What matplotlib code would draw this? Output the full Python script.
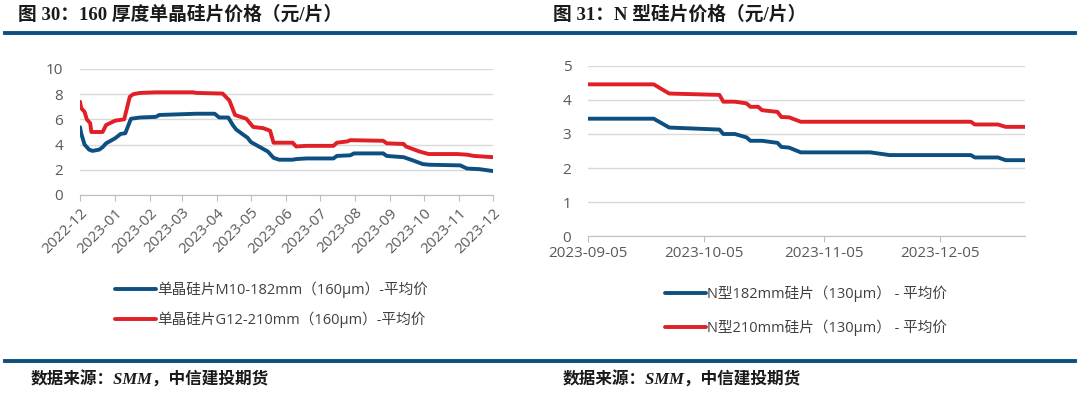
import matplotlib.pyplot as plt
import matplotlib.dates as mdates
from matplotlib.lines import Line2D
import pandas as pd

plt.rcParams['font.family'] = ['Noto Sans CJK SC', 'DejaVu Sans']

# 图30: 160厚度单晶硅片 (元/片)
m10_dates = ['2022-12-01', '2022-12-02', '2022-12-05', '2022-12-09', '2022-12-12', '2022-12-18',
             '2022-12-21', '2022-12-24', '2023-01-01', '2023-01-06', '2023-01-10', '2023-01-15',
             '2023-01-23', '2023-02-06', '2023-02-09', '2023-03-14', '2023-03-30', '2023-04-03',
             '2023-04-11', '2023-04-15', '2023-04-18', '2023-04-24', '2023-04-28', '2023-05-01',
             '2023-05-07', '2023-05-12', '2023-05-16', '2023-05-21', '2023-05-26', '2023-06-07',
             '2023-06-10', '2023-06-19', '2023-07-13', '2023-07-16', '2023-07-28', '2023-07-31',
             '2023-08-26', '2023-08-29', '2023-09-13', '2023-09-21', '2023-09-30', '2023-10-06',
             '2023-11-02', '2023-11-08', '2023-11-19', '2023-12-01']
m10_price = [5.38, 4.9, 4.0, 3.6, 3.5, 3.6, 3.8, 4.1, 4.5, 4.85, 4.9, 6.05,
             6.15, 6.2, 6.35, 6.45, 6.45, 6.15, 6.15, 5.55, 5.2, 4.8, 4.55, 4.2,
             3.9, 3.65, 3.45, 2.95, 2.8, 2.8, 2.85, 2.9, 2.9, 3.1, 3.15, 3.3,
             3.3, 3.1, 3.0, 2.75, 2.45, 2.4, 2.35, 2.1, 2.05, 1.9]

g12_dates = ['2022-12-01', '2022-12-02', '2022-12-05', '2022-12-07', '2022-12-10', '2022-12-11',
             '2022-12-21', '2022-12-24', '2023-01-01', '2023-01-09', '2023-01-14', '2023-01-17',
             '2023-01-23', '2023-02-06', '2023-03-11', '2023-03-14', '2023-04-06', '2023-04-12',
             '2023-04-17', '2023-04-27', '2023-05-03', '2023-05-12', '2023-05-18', '2023-05-21',
             '2023-06-07', '2023-06-10', '2023-06-19', '2023-07-13', '2023-07-16', '2023-07-25',
             '2023-07-28', '2023-08-26', '2023-08-29', '2023-09-13', '2023-09-15', '2023-09-27',
             '2023-10-05', '2023-10-30', '2023-11-08', '2023-11-14', '2023-12-01']
g12_price = [7.4, 6.9, 6.6, 6.0, 5.7, 5.0, 5.0, 5.55, 5.9, 6.0, 7.8, 8.0,
             8.1, 8.15, 8.15, 8.1, 8.05, 7.5, 6.35, 6.05, 5.4, 5.3, 5.1, 4.15,
             4.15, 3.85, 3.9, 3.9, 4.15, 4.25, 4.35, 4.3, 4.1, 4.05, 3.85, 3.45,
             3.25, 3.25, 3.2, 3.1, 3.0]

# 图31: N型硅片 (元/片)
n_dates = ['2023-09-05', '2023-09-22', '2023-09-26', '2023-10-09', '2023-10-10', '2023-10-13',
           '2023-10-16', '2023-10-17', '2023-10-19', '2023-10-20', '2023-10-24', '2023-10-25',
           '2023-10-27', '2023-10-30', '2023-11-17', '2023-11-22', '2023-12-13', '2023-12-14',
           '2023-12-20', '2023-12-22', '2023-12-27']
n182_price = [3.45, 3.45, 3.19, 3.13, 3.0, 3.0, 2.9, 2.8, 2.8, 2.8, 2.74, 2.62,
              2.6, 2.46, 2.46, 2.38, 2.38, 2.31, 2.31, 2.23, 2.23]
n210_price = [4.46, 4.46, 4.19, 4.15, 3.95, 3.95, 3.9, 3.8, 3.8, 3.7, 3.65, 3.5,
              3.49, 3.36, 3.36, 3.36, 3.36, 3.28, 3.28, 3.21, 3.21]

left_labels = ['单晶硅片M10-182mm（160μm）-平均价', '单晶硅片G12-210mm（160μm）-平均价']
right_labels = ['N型182mm硅片（130μm） - 平均价', 'N型210mm硅片（130μm） - 平均价']
right_ticks = ['2023-09-05', '2023-10-05', '2023-11-05', '2023-12-05']

BLUE = '#0d4f80'
RED = '#e01f26'
RULE = '#0b4f7e'
GRID = '#d9d9d9'
TXT = '#595959'
LATIN = ['Open Sans', 'Noto Sans CJK SC']

fig = plt.figure(figsize=(10.8, 3.94), dpi=100)

def style(ax):
    for s in ['top', 'right', 'left']:
        ax.spines[s].set_visible(False)
    ax.spines['bottom'].set_color('#bfbfbf')
    ax.grid(axis='y', color=GRID, linewidth=1)
    ax.set_axisbelow(True)
    ax.tick_params(axis='y', length=0, labelsize=11, labelcolor=TXT, pad=12)
    ax.tick_params(axis='x', color='#bfbfbf', length=4, labelsize=11, labelcolor=TXT)
    for lab in ax.get_xticklabels() + ax.get_yticklabels():
        lab.set_family(LATIN)

# left chart
ax1 = fig.add_axes([0.0741, 0.5051, 0.3824, 0.3198])
ax1.plot(pd.to_datetime(m10_dates), m10_price, color=BLUE, lw=2.8, solid_capstyle='round', label=left_labels[0])
ax1.plot(pd.to_datetime(g12_dates), g12_price, color=RED, lw=2.8, solid_capstyle='round', label=left_labels[1])
ax1.set_ylim(0, 10)
ax1.set_yticks([0, 2, 4, 6, 8, 10])
ax1.set_xlim(pd.Timestamp('2022-12-01'), pd.Timestamp('2023-12-01'))
ax1.xaxis.set_major_locator(mdates.MonthLocator())
ax1.xaxis.set_major_formatter(mdates.DateFormatter('%Y-%m'))
style(ax1)
for lab in ax1.get_xticklabels():
    lab.set_rotation(45)
    lab.set_ha('right')
    lab.set_rotation_mode('anchor')

# right chart
ax2 = fig.add_axes([0.5444, 0.401, 0.4047, 0.4315])
ax2.plot(pd.to_datetime(n_dates), n182_price, color=BLUE, lw=2.8, solid_capstyle='round', label=right_labels[0])
ax2.plot(pd.to_datetime(n_dates), n210_price, color=RED, lw=2.8, solid_capstyle='round', label=right_labels[1])
ax2.set_ylim(0, 5)
ax2.set_xlim(pd.Timestamp(n_dates[0]), pd.Timestamp(n_dates[-1]))
ax2.set_xticks(pd.to_datetime(right_ticks))
ax2.set_xticklabels(right_ticks)
style(ax2)

# legends
leg_font = {'family': LATIN, 'size': 10.5}
fig.legend(*ax1.get_legend_handles_labels(), loc='upper left', bbox_to_anchor=(0.1065, 0.286),
           frameon=False, prop=leg_font, labelcolor='#404040', handlelength=2.8, handletextpad=0.1,
           labelspacing=0.95, borderpad=0, borderaxespad=0)
fig.legend(*ax2.get_legend_handles_labels(), loc='upper left', bbox_to_anchor=(0.6157, 0.276),
           frameon=False, prop=leg_font, labelcolor='#404040', handlelength=2.8, handletextpad=0.1,
           labelspacing=1.2, borderpad=0, borderaxespad=0)

# titles
title_font = ['Liberation Serif', 'Noto Sans CJK SC']
fig.text(0.017, 0.962, '图 30：160 厚度单晶硅片价格（元/片）', fontsize=13.5, fontweight='bold',
         family=title_font, va='center', ha='left', color='#1a1a1a')
fig.text(0.512, 0.962, '图 31：N 型硅片价格（元/片）', fontsize=13.5, fontweight='bold',
         family=title_font, va='center', ha='left', color='#1a1a1a')

# rules
fig.add_artist(Line2D([0.005, 0.995], [0.915, 0.915], transform=fig.transFigure, color=RULE, lw=2.8))
fig.add_artist(Line2D([0.005, 0.995], [0.083, 0.083], transform=fig.transFigure, color=RULE, lw=2.8))

# sources
fig.text(0.028, 0.036, '数据来源：SMM，中信建投期货', fontsize=12, fontweight='bold', style='italic',
         family=title_font, va='center', ha='left', color='#1a1a1a')
fig.text(0.521, 0.036, '数据来源：SMM，中信建投期货', fontsize=12, fontweight='bold', style='italic',
         family=title_font, va='center', ha='left', color='#1a1a1a')

fig.savefig('out.png', dpi=100)
